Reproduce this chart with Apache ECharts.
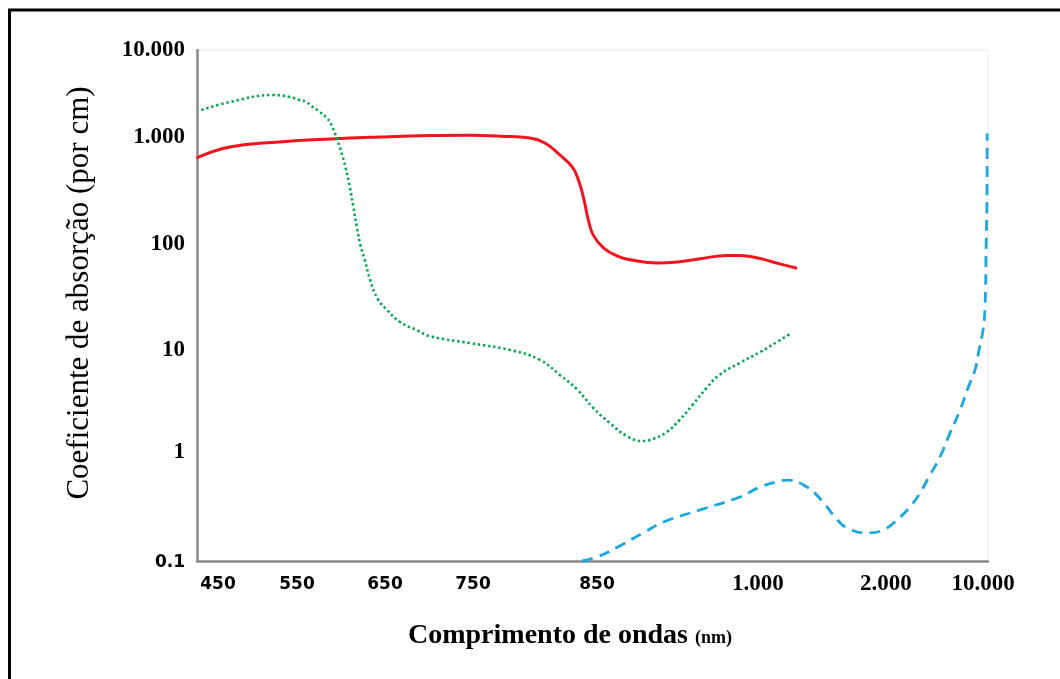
<!DOCTYPE html>
<html>
<head>
<meta charset="utf-8">
<title>Coeficiente de absorção</title>
<script src="https://cdn.jsdelivr.net/npm/echarts@6/dist/echarts.min.js"></script>
<style>
  html, body { margin: 0; padding: 0; background: #fff; }
  #chart { width: 1060px; height: 679px; }
</style>
</head>
<body>
<div id="chart"></div>
<script>
// Axis tick values and their labels
const xTickValues = [450, 550, 650, 750, 850, 1000, 2000, 10000];
const xTickLabels = ['450', '550', '650', '750', '850', '1.000', '2.000', '10.000'];
const yTickValues = [0.1, 1, 10, 100, 1000, 10000];
const yTickLabels = ['0.1', '1', '10', '100', '1.000', '10.000'];

// Piecewise scale: where each tick value sits along its axis (0–100 % of axis length)
const xTickStops = [2.65, 12.64, 23.77, 34.89, 50.57, 70.92, 87.10, 99.37];
const yTickStops = [0, 21.33, 41.29, 62.04, 82.97, 100];

// Red curve (solid)
const redWavelength = [423, 465, 528, 588, 644, 701, 747, 772, 796, 808, 820, 830, 835, 839, 843, 847, 856, 869, 881, 906, 925, 946, 971, 983, 1016, 1148, 1305];
const redAbsorption = [637, 807, 898, 958, 1000, 1040, 1050, 1020, 979, 879, 680, 525, 397, 275, 168, 121, 92, 77, 71, 66, 67.5, 72.5, 78, 78, 73, 66, 59];

// Green curve (dotted)
const greenWavelength = [429, 465, 520, 541, 553, 561, 565, 576, 584, 588, 593, 599, 602, 605, 610, 614, 618, 622, 627, 633, 642, 652, 667, 686, 701, 747, 780, 804, 820, 834, 847, 862, 878, 892, 902, 915, 927, 939, 952, 964, 983, 1016, 1148, 1250];
const greenAbsorption = [2042, 2523, 3040, 2884, 2660, 2523, 2333, 1938, 1652, 1448, 1111, 789, 650, 525, 341, 222, 144, 98, 71, 46, 30, 24, 18.4, 15.4, 13.5, 11.6, 10, 8.0, 5.7, 4.1, 2.7, 1.92, 1.43, 1.28, 1.34, 1.57, 2.06, 2.89, 4.24, 5.69, 7.46, 9.55, 11.9, 14.2];

// Blue curve (dashed)
const blueWavelength = [838, 850, 869, 893, 912, 946, 983, 1016, 1172, 1227, 1383, 1508, 1602, 1695, 1852, 1977, 2907, 3980, 4805, 5630, 6455, 7280, 8105, 8765, 9340, 9670, 10000, 10165, 10250, 10330, 10340];
const blueAbsorption = [0.1, 0.109, 0.134, 0.181, 0.228, 0.294, 0.386, 0.477, 0.542, 0.553, 0.477, 0.348, 0.253, 0.201, 0.181, 0.192, 0.238, 0.313, 0.421, 0.615, 0.90, 1.54, 2.58, 4.24, 6.37, 10, 15.4, 25.5, 88, 320, 1100];

// Map a value onto the piecewise axis (linear between x ticks, logarithmic between y ticks)
function piecewise(v, values, stops, useLog) {
  const t = useLog ? Math.log10 : (a => a);
  const n = values.length;
  let i = 0;
  while (i < n - 2 && v > values[i + 1]) i++;
  const a = t(values[i]), b = t(values[i + 1]);
  return stops[i] + (t(v) - a) / (b - a) * (stops[i + 1] - stops[i]);
}
const toX = w => piecewise(w, xTickValues, xTickStops, false);
const toY = v => piecewise(v, yTickValues, yTickStops, true);

function buildSeriesData(ws, vs) {
  return ws.map((w, i) => [toX(w), toY(vs[i])]);
}

function nearestTick(pos, stops) {
  let best = 0;
  for (let i = 1; i < stops.length; i++) {
    if (Math.abs(stops[i] - pos) < Math.abs(stops[best] - pos)) best = i;
  }
  return best;
}

const xRich = {
  serif: { fontFamily: 'Liberation Serif', fontWeight: 'bold', fontSize: 23, color: '#000' },
  sans: { fontFamily: 'DejaVu Sans', fontWeight: 'bold', fontSize: 17, color: '#000', padding: [3, 0, 0, 0] }
};
const yRich = {
  serif: { fontFamily: 'Liberation Serif', fontWeight: 'bold', fontSize: 23, color: '#000' },
  sans: { fontFamily: 'DejaVu Sans', fontWeight: 'bold', fontSize: 17, color: '#000', padding: [4, 0, 0, 0] }
};

const chart = echarts.init(document.getElementById('chart'), null, { renderer: 'canvas' });

const lineBase = { type: 'line', showSymbol: false, smooth: 0.45, clip: true };

chart.setOption({
  backgroundColor: '#fff',
  animation: false,
  grid: {
    left: 197, top: 50, width: 791, height: 511,
    show: true, borderColor: '#e8e8e8', borderWidth: 1, backgroundColor: 'transparent'
  },
  xAxis: {
    type: 'value', min: 0, max: 100,
    axisLine: { show: true, lineStyle: { color: '#8a8a8a', width: 2.5 } },
    axisTick: { show: false },
    splitLine: { show: false },
    axisLabel: {
      customValues: xTickStops,
      margin: 12,
      showMinLabel: true, showMaxLabel: true,
      formatter: function (v) {
        const i = nearestTick(v, xTickStops);
        return (xTickValues[i] < 1000 ? '{sans|' : '{serif|') + xTickLabels[i] + '}';
      },
      rich: xRich
    }
  },
  yAxis: {
    type: 'value', min: 0, max: 100,
    axisLine: { show: true, lineStyle: { color: '#8a8a8a', width: 2.5 } },
    axisTick: { show: false },
    splitLine: { show: false },
    axisLabel: {
      customValues: yTickStops,
      margin: 12,
      showMinLabel: true, showMaxLabel: true,
      formatter: function (v) {
        const i = nearestTick(v, yTickStops);
        return (yTickValues[i] < 1 ? '{sans|' : '{serif|') + yTickLabels[i] + '}';
      },
      rich: yRich
    }
  },
  series: [
    Object.assign({}, lineBase, {
      name: 'red',
      data: buildSeriesData(redWavelength, redAbsorption),
      lineStyle: { color: '#f0141e', width: 3 }
    }),
    Object.assign({}, lineBase, {
      name: 'green',
      data: buildSeriesData(greenWavelength, greenAbsorption),
      lineStyle: { color: '#00a84f', width: 2.6, type: [2.4, 2.8], cap: 'butt' }
    }),
    Object.assign({}, lineBase, {
      name: 'blue',
      data: buildSeriesData(blueWavelength, blueAbsorption),
      lineStyle: { color: '#1aa8e2', width: 2.8, type: [11, 7], cap: 'butt' }
    })
  ],
  graphic: [
    {
      type: 'rect', silent: true, z: 100,
      shape: { x: 9.5, y: 10, width: 1200, height: 1000 },
      style: { fill: 'none', stroke: '#000', lineWidth: 3 }
    },
    {
      type: 'text', silent: true,
      x: 570, y: 636,
      style: {
        text: '{a|Comprimento de ondas }{b|(nm)}',
        align: 'center', verticalAlign: 'middle',
        rich: {
          a: { fontFamily: 'Liberation Serif', fontWeight: 'bold', fontSize: 28, fill: '#000' },
          b: { fontFamily: 'Liberation Serif', fontWeight: 'bold', fontSize: 18, fill: '#000', padding: [4, 0, 0, 0] }
        }
      }
    },
    {
      type: 'text', silent: true,
      x: 80, y: 293, rotation: Math.PI / 2,
      style: {
        text: 'Coeficiente de absorção (por cm)',
        align: 'center', verticalAlign: 'middle',
        font: '31px "Liberation Serif"', fill: '#000'
      }
    }
  ]
});
</script>
</body>
</html>
